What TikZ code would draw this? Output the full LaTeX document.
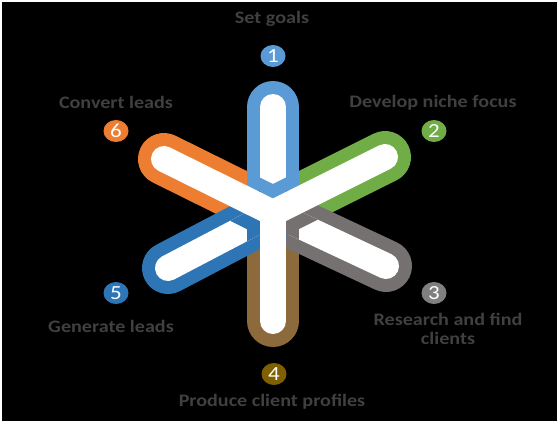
\documentclass[tikz,border=0pt]{standalone}
\usepackage{fontspec}
\setmainfont{Carlito}[FakeStretch=1.15]
\usetikzlibrary{calc, shapes.geometric}
\definecolor{cblue}{HTML}{5B9BD5}
\definecolor{cgreen}{HTML}{70AD47}
\definecolor{cgrey}{HTML}{767171}
\definecolor{cgreyd}{HTML}{7F7F7F}
\definecolor{cbrown}{HTML}{8C6A3C}
\definecolor{colive}{HTML}{7F6000}
\definecolor{cnavy}{HTML}{2E75B6}
\definecolor{corange}{HTML}{ED7D31}
\definecolor{ctext}{HTML}{404040}
\tikzset{
  every picture/.style={x=1pt, y=-1pt},
  band/.style={draw=#1, line width=52pt, line cap=round},
  core/.style={draw=white, line width=26pt, line cap=round},
  num/.style={ellipse, fill=#1, text=white, minimum width=25pt, minimum height=22pt, inner sep=0pt, font=\fontsize{20}{20}\selectfont},
  lab/.style={text=ctext, font=\bfseries\fontsize{17.5}{19}\selectfont, align=center, inner sep=0pt},
}
\begin{document}
\begin{tikzpicture}
  \fill[white] (0,0) rectangle (560,424);
  \fill[black] (2,2) rectangle (557,421);
  \coordinate (c) at (273,213);
  \coordinate (t1) at (273,107);
  \coordinate (t2) at (385,157);
  \coordinate (t3) at (386,266);
  \coordinate (t4) at (273,321);
  \coordinate (t5) at (168,268);
  \coordinate (t6) at (164,159);
  % back arms
  \draw[band=cbrown] (c) -- (t4);
  \draw[band=corange] (c) -- (t6);
  \draw[band=cgreen] (c) -- (t2);
  % front arms
  \foreach \k/\col in {1/cblue,3/cgrey,5/cnavy}
    \draw[band=\col] (c) -- (t\k);
  \foreach \k in {1,3,5}
    \draw[core] (c) -- (t\k);
  % gap round the white Y
  \foreach \k/\col in {1/cblue,3/cgrey,5/cnavy}{
    \begin{scope}
      \clip ($(c)!13pt!90:(t\k)$) -- ($(t\k)!13pt!-90:(c)$) -- ($(t\k)!13pt!90:(c)$) -- ($(c)!13pt!-90:(t\k)$) -- cycle;
      \foreach \j in {2,4,6}
        \draw[band=\col] (c) -- (t\j);
    \end{scope}
  }
  \foreach \j in {2,4,6}
    \draw[core] (c) -- (t\j);
  % numbers
  \node[num=cblue] (n1) at (273,56) {1};
  \node[num=cgreen] (n2) at (434,131) {2};
  \node[num=cgreyd] (n3) at (434,293) {3};
  \node[num=colive] (n4) at (274,374) {4};
  \node[num=cnavy] (n5) at (116,293) {5};
  \node[num=corange] (n6) at (116,131) {6};
  % labels
  \node[lab] (l1) at (272,19) {Set goals};
  \node[lab] (l2) at (433,103) {Develop niche focus};
  \node[lab] (l3) at (448,329) {Research and find\\clients};
  \node[lab] (l4) at (272,402) {Produce client profiles};
  \node[lab] (l5) at (111,326) {Generate leads};
  \node[lab] (l6) at (116,102) {Convert leads};
\end{tikzpicture}
\end{document}
